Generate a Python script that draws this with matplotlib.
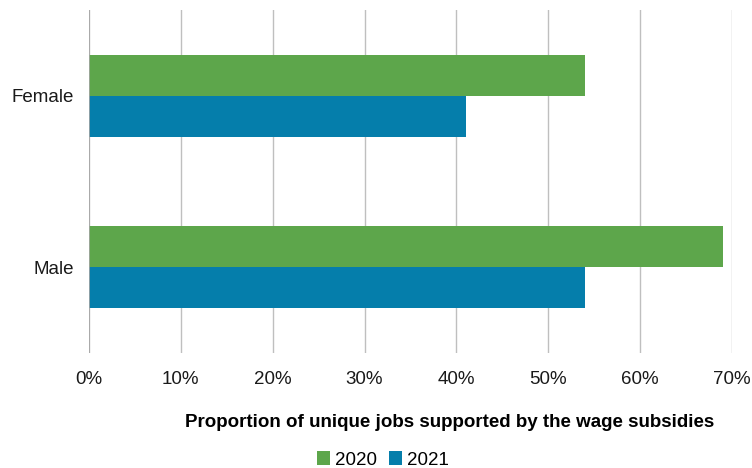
import matplotlib.pyplot as plt
from matplotlib.ticker import MultipleLocator, PercentFormatter
import numpy as np

plt.rcParams['font.family'] = ['Liberation Sans', 'DejaVu Sans']

# 数据
groups = ["Female", "Male"]
years = ["2020", "2021"]
share_2020 = [54, 69]
share_2021 = [41, 54]
colors = {"2020": "#5DA64B", "2021": "#057EAB"}

fig = plt.figure(figsize=(7.52, 4.68), dpi=100)
ax = fig.add_axes([89/752, 1-353/468, (732-89)/752, (353-10)/468])

y = np.arange(len(groups))
h = 0.24
ax.barh(y - h/2, share_2020, height=h, color=colors["2020"], label="2020", zorder=3)
ax.barh(y + h/2, share_2021, height=h, color=colors["2021"], label="2021", zorder=3)

ax.set_xlim(0, 70)
ax.set_ylim(1.5, -0.5)
ax.xaxis.set_major_locator(MultipleLocator(10))
ax.xaxis.set_major_formatter(PercentFormatter(decimals=0))
ax.set_yticks(y)
ax.set_yticklabels(groups)
ax.tick_params(axis='both', length=0, labelsize=13.5, colors='#1a1a1a')
ax.tick_params(axis='x', pad=13)
ax.tick_params(axis='y', pad=11)
ax.grid(axis='x', color='#BFBFBF', linewidth=1, zorder=0)
ax.axvline(0, color='#A6A6A6', linewidth=1.2, zorder=4)
for s in ax.spines.values():
    s.set_visible(False)

ax.set_xlabel("Proportion of unique jobs supported by the wage subsidies",
              fontsize=13.5, fontweight='bold')
ax.xaxis.set_label_coords((450-89)/(732-89), -(414-353)/(353-10))

fig.legend(loc='center', bbox_to_anchor=(383/752, 1-460/468), ncol=2, frameon=False,
           fontsize=13.5, handlelength=0.7, handleheight=0.7, handletextpad=0.3,
           columnspacing=0.6)

plt.savefig("out.png")
